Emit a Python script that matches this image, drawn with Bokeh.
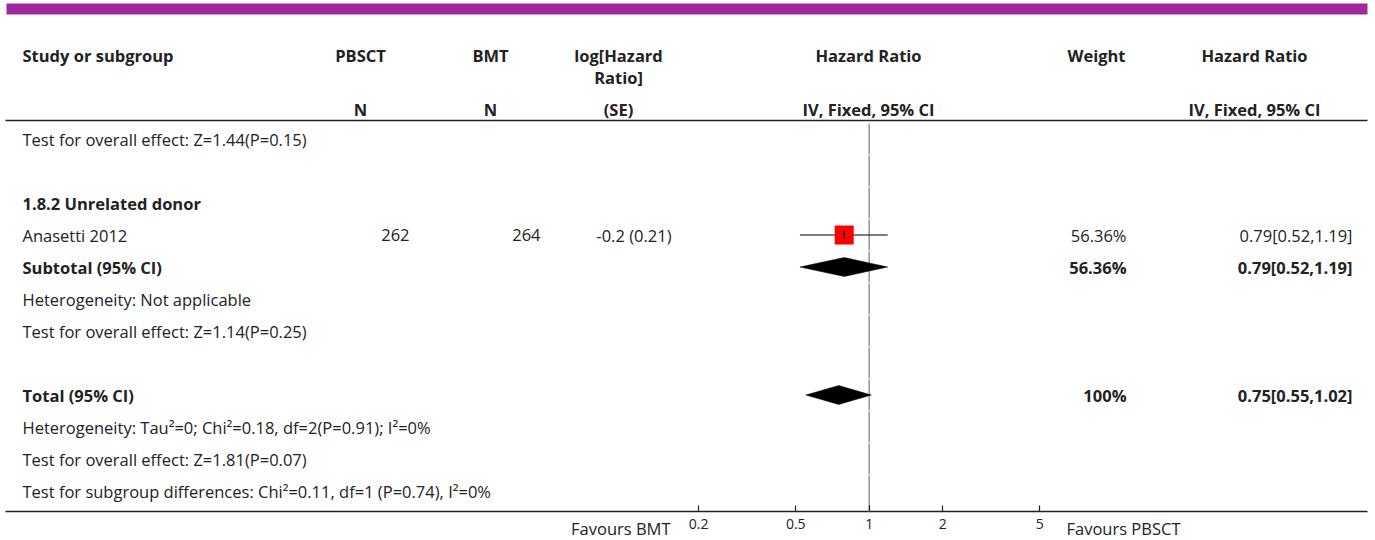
import math
from bokeh.plotting import figure
from bokeh.models import (Range1d, LogScale, LinearAxis, FixedTicker,
                          ColumnDataSource, CustomJSTickFormatter)
from bokeh.core.properties import value
from bokeh.embed import file_html
from bokeh.resources import INLINE

# ---------------- data ----------------
header_row1 = ["Study or subgroup", "PBSCT", "BMT", "log[Hazard", "Hazard Ratio", "Weight", "Hazard Ratio"]
header_row2 = ["", "", "", "Ratio]", "", "", ""]
header_row3 = ["", "N", "N", "(SE)", "IV, Fixed, 95% CI", "", "IV, Fixed, 95% CI"]

row_labels = [
    "Test for overall effect: Z=1.44(P=0.15)",
    "",
    "1.8.2 Unrelated donor",
    "Anasetti 2012",
    "Subtotal (95% CI)",
    "Heterogeneity: Not applicable",
    "Test for overall effect: Z=1.14(P=0.25)",
    "",
    "Total (95% CI)",
    "Heterogeneity: Tau\u00b2=0; Chi\u00b2=0.18, df=2(P=0.91); I\u00b2=0%",
    "Test for overall effect: Z=1.81(P=0.07)",
    "Test for subgroup differences: Chi\u00b2=0.11, df=1 (P=0.74), I\u00b2=0%",
]
row_bold = [False, False, True, False, True, False, False, False, True, False, False, False]

study_names = ["Anasetti 2012"]
study_rows = [3]
pbsct_n = [262]
bmt_n = [264]
log_hr = [-0.2]
log_hr_se = [0.21]
study_hr = [0.79]
study_lo = [0.52]
study_hi = [1.19]
study_weight = [56.36]

summary_names = ["Subtotal (95% CI)", "Total (95% CI)"]
summary_rows = [4, 8]
summary_hr = [0.79, 0.75]
summary_lo = [0.52, 0.55]
summary_hi = [1.19, 1.02]
summary_weight = [56.36, 100]

tick_values = [0.2, 0.5, 1, 2, 5]
tick_labels = ["0.2", "0.5", "1", "2", "5"]
favours_left = "Favours BMT"
favours_right = "Favours PBSCT"

# ---------------- layout ----------------
FONT = "Open Sans"
FS = "16.5px"
TXT = "#222222"
W, H = 1375, 540
PX_ONE = 868.7        # screen x of HR = 1
PX_DECADE = 244.0     # pixels per decade
AXIS_Y = 511
LEFT, RIGHT = 5, 1367

def row_y(i):
    return 138.5 + 32.0 * i

p = figure(width=W, height=H, output_backend="svg", toolbar_location=None,
           x_range=Range1d(0, W), y_range=Range1d(H, 0),
           x_axis_type=None, y_axis_type=None,
           min_border_left=0, min_border_right=0, min_border_top=0,
           min_border_bottom=0)
p.outline_line_color = None
p.background_fill_color = "white"
p.border_fill_color = "white"

p.extra_x_ranges = {"hr": Range1d(10 ** ((0 - PX_ONE) / PX_DECADE),
                                  10 ** ((W - PX_ONE) / PX_DECADE))}
p.extra_x_scales = {"hr": LogScale()}

# top purple bar
p.quad(left=LEFT + 1, right=RIGHT, top=3, bottom=14, fill_color="#A0289B", line_color=None)

# header rule and bottom rule
p.segment(x0=[LEFT, LEFT], x1=[RIGHT, RIGHT], y0=[120, AXIS_Y], y1=[120, AXIS_Y],
          line_color=TXT, line_width=1.5)

# headers
hx = [22, 360, 490, 618, 868, 1096, 1254]
halign = ["left"] + ["center"] * 6
for texts, y in ((header_row1, 55), (header_row2, 77), (header_row3, 109)):
    src = ColumnDataSource(dict(x=hx, y=[y] * len(hx), t=texts, a=halign))
    p.text(x="x", y="y", text="t", text_align="a", source=src,
           text_font=value(FONT), text_font_size=FS, text_font_style="bold",
           text_color=TXT, text_baseline="middle")

# row labels
for bold in (False, True):
    idx = [i for i, b in enumerate(row_bold) if b == bold and row_labels[i]]
    src = ColumnDataSource(dict(x=[22] * len(idx), y=[row_y(i) for i in idx],
                                t=[row_labels[i] for i in idx]))
    p.text(x="x", y="y", text="t", source=src, text_font=value(FONT),
           text_font_size=FS, text_font_style="bold" if bold else "normal",
           text_color=TXT, text_baseline="middle", text_align="left")

# study numeric columns
ys = [row_y(i) for i in study_rows]
cols = [
    (409, [str(v) for v in pbsct_n]),
    (540, [str(v) for v in bmt_n]),
    (671, [f"{a:g} ({s:g})" for a, s in zip(log_hr, log_hr_se)]),
    (1126, [f"{w:g}%" for w in study_weight]),
    (1352, [f"{h:.2f}[{l:.2f},{u:.2f}]" for h, l, u in zip(study_hr, study_lo, study_hi)]),
]
for xr, texts in cols:
    src = ColumnDataSource(dict(x=[xr] * len(texts), y=ys, t=texts))
    p.text(x="x", y="y", text="t", source=src, text_font=value(FONT),
           text_font_size=FS, text_color=TXT, text_baseline="middle",
           text_align="right")

sys_ = [row_y(i) for i in summary_rows]
for xr, texts in (
    (1126, [f"{w:g}%" for w in summary_weight]),
    (1352, [f"{h:.2f}[{l:.2f},{u:.2f}]" for h, l, u in zip(summary_hr, summary_lo, summary_hi)]),
):
    src = ColumnDataSource(dict(x=[xr] * len(texts), y=sys_, t=texts))
    p.text(x="x", y="y", text="t", source=src, text_font=value(FONT),
           text_font_size=FS, text_font_style="bold", text_color=TXT,
           text_baseline="middle", text_align="right")

# favours labels
fsrc = ColumnDataSource(dict(x=[670, 1066], y=[528, 528], t=[favours_left, favours_right],
                             a=["right", "left"]))
p.text(x="x", y="y", text="t", text_align="a", source=fsrc, text_font=value(FONT),
       text_font_size=FS, text_color=TXT, text_baseline="middle")

# line of no effect (broken at row boundaries)
seg_y0, seg_y1 = [], []
n = len(row_labels)
for i in range(n):
    top = max(121, row_y(i) - 16.0 + 0.6)
    bot = row_y(i) + 16.0 - 0.6 if i < n - 1 else AXIS_Y
    seg_y0.append(top)
    seg_y1.append(bot)
p.segment(x0=[1] * n, x1=[1] * n, y0=seg_y0, y1=seg_y1,
          line_color="#999999", line_width=1.6, x_range_name="hr")

# study CI lines, squares, centre ticks
csrc = ColumnDataSource(dict(hr=study_hr, lo=study_lo, hi=study_hi, y=ys,
                             yt=[y - 4 for y in ys], yb=[y + 4 for y in ys]))
p.segment(x0="lo", x1="hi", y0="y", y1="y", source=csrc, line_color="black",
          line_width=1.2, x_range_name="hr")
p.scatter(x="hr", y="y", source=csrc, marker="square", size=19,
          fill_color="#FF0000", line_color=None, x_range_name="hr")
p.segment(x0="hr", x1="hr", y0="yt", y1="yb", source=csrc, line_color="black",
          line_width=1.5, x_range_name="hr")

# summary diamonds
dxs = [[l, h, u, h] for h, l, u in zip(summary_hr, summary_lo, summary_hi)]
dys = [[y, y - 9.5, y, y + 9.5] for y in sys_]
p.patches(xs=dxs, ys=dys, fill_color="black", line_color="black", line_width=0.5,
          x_range_name="hr")

# axis (drawn at a fixed location inside the frame)
ax = LinearAxis(x_range_name="hr", ticker=FixedTicker(ticks=tick_values, minor_ticks=[]),
                formatter=CustomJSTickFormatter(code="return tick.toString();"),
                fixed_location=AXIS_Y)
ax.major_label_overrides = dict(zip(tick_values, tick_labels))
ax.axis_line_color = None
ax.major_tick_in = 6
ax.major_tick_out = 0
ax.major_tick_line_color = TXT
ax.major_tick_line_width = 1.2
ax.minor_tick_line_color = None
ax.major_label_text_font = FONT
ax.major_label_text_font_size = "14px"
ax.major_label_text_color = TXT
ax.major_label_standoff = 7
p.add_layout(ax, "below")

open("out.html", "w").write(file_html(p, INLINE))
